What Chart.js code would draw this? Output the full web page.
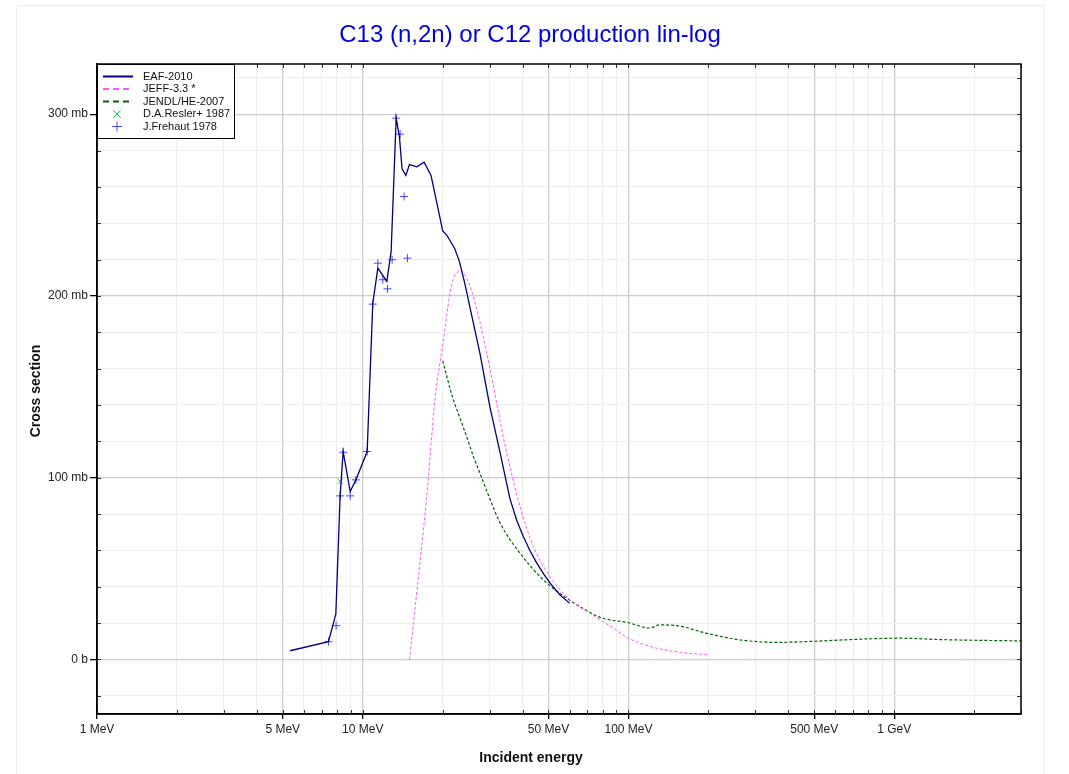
<!DOCTYPE html>
<html>
<head>
<meta charset="utf-8">
<title>C13 (n,2n) or C12 production lin-log</title>
<script src="https://cdn.jsdelivr.net/npm/chart.js@4.4.0/dist/chart.umd.min.js"></script>
<style>
  html, body { margin: 0; padding: 0; background: #fff; }
  #wrap { width: 1069px; height: 774px; }
</style>
</head>
<body>
<div id="wrap"><canvas id="xsChart" width="1069" height="774"></canvas></div>
<script>
// incident energy in MeV, cross section in mb
const eafE  = [5.33, 7.43, 7.92, 8.22, 8.44, 8.97, 9.42, 10.39, 10.91, 11.4, 12.32, 12.79, 13.36, 13.74, 14.06, 14.53, 14.99, 15.98, 17.02, 18.07, 20.0, 20.7, 21.3, 22.2, 23.1, 24.2, 25.3, 27.6, 30.1, 32.9, 35.8, 38.0, 40.2, 42.6, 45.2, 48.0, 50.7, 55.3, 60];
const eafXS = [4.8, 9.8, 24.9, 90, 114.4, 92.4, 98.8, 114.4, 196, 215.3, 208, 224.4, 297.8, 287.7, 270, 266.3, 272.3, 271, 273.6, 266.3, 235.8, 233.5, 230.5, 226, 219, 207, 194, 168.5, 139, 113.5, 88.5, 76.5, 67.6, 59.8, 53, 47, 42, 35.5, 31];

const jeffE  = [15, 16, 17.4, 18.7, 20.1, 21.3, 21.9, 22.3, 23.3, 24.6, 26.5, 29.3, 32.9, 34.3, 39.1, 43.9, 50.7, 60.3, 71.7, 87.7, 100, 127.6, 156, 200];
const jeffXS = [0, 38, 89, 143, 175, 201.5, 208.9, 211.6, 214, 209.8, 196, 168.5, 131, 118, 84.1, 62.1, 45.6, 32.7, 25.4, 17.2, 11.7, 6.2, 4, 2.5];

const jendlE  = [20, 21.7, 23.6, 24.6, 26.1, 27.6, 29.7, 32.9, 39.1, 47.8, 58.6, 65.7, 78.1, 100, 120.5, 131, 152, 197, 262, 361, 496, 787, 1050, 1528, 3000];
const jendlXS = [164.3, 145, 130, 122.6, 111.6, 102.5, 90.5, 75, 58.4, 43.8, 33.7, 29.1, 23.2, 20.2, 17.3, 19, 18.6, 14.4, 10.8, 9.4, 10, 11.3, 11.7, 10.9, 10.2];

const reslerE  = [8.22];
const reslerXS = [98];

const frehautE  = [7.43, 7.94, 8.22, 8.44, 8.97, 9.42, 10.39, 10.91, 11.4, 11.9, 12.39, 12.9, 13.36, 13.83, 14.31, 14.73];
const frehautXS = [9.8, 18.6, 90, 114, 90, 98.8, 114.4, 195.5, 218, 208.9, 203.9, 219.9, 297.8, 289, 254.7, 220.8];

const xTicks = [1, 2, 3, 4, 5, 6, 7, 8, 9, 10, 20, 30, 40, 50, 60, 70, 80, 90, 100, 200, 300, 400, 500, 600, 700, 800, 900, 1000, 2000, 3000];
const xLabels = { 1: '1 MeV', 5: '5 MeV', 10: '10 MeV', 50: '50 MeV', 100: '100 MeV', 500: '500 MeV', 1000: '1 GeV' };
const yTicks = [-20, 0, 20, 40, 60, 80, 100, 120, 140, 160, 180, 200, 220, 240, 260, 280, 300, 320];

const FONT = 'Arial, "Liberation Sans", sans-serif';

function pts(xs, ys) {
  return xs.map((x, i) => ({ x: x, y: ys[i] }));
}

function yLabel(v) {
  if (v === 0) return '0 b';
  if (v % 100 === 0) return v + ' mb';
  return '';
}

const decor = {
  id: 'decor',
  beforeDraw(chart) {
    const ctx = chart.ctx;
    ctx.save();
    ctx.fillStyle = '#fff';
    ctx.fillRect(0, 0, chart.width, chart.height);
    ctx.strokeStyle = '#eeeeee';
    ctx.lineWidth = 1;
    ctx.strokeRect(16.5, 5.5, 1028, 800);
    ctx.restore();
  },
  afterDraw(chart) {
    const ctx = chart.ctx;
    const a = chart.chartArea;
    const xs = chart.scales.x, ys = chart.scales.y;
    ctx.save();

    // inner ticks
    ctx.strokeStyle = '#333';
    ctx.lineWidth = 1;
    ctx.beginPath();
    xTicks.forEach(v => {
      const px = Math.round(xs.getPixelForValue(v)) + 0.5;
      ctx.moveTo(px, a.bottom); ctx.lineTo(px, a.bottom - 4);
      ctx.moveTo(px, a.top); ctx.lineTo(px, a.top + 4);
    });
    yTicks.forEach(v => {
      const py = Math.round(ys.getPixelForValue(v)) + 0.5;
      ctx.moveTo(a.left, py); ctx.lineTo(a.left + 4, py);
      ctx.moveTo(a.right, py); ctx.lineTo(a.right - 4, py);
    });
    ctx.stroke();

    // frame
    ctx.strokeStyle = '#000';
    ctx.lineWidth = 1.5;
    ctx.strokeRect(a.left, a.top, a.right - a.left, a.bottom - a.top);

    // legend box
    const lx = a.left, ly = a.top, lw = 137, lh = 74;
    ctx.fillStyle = '#fff';
    ctx.fillRect(lx, ly, lw, lh);
    ctx.lineWidth = 1;
    ctx.strokeStyle = '#000';
    ctx.strokeRect(lx + 0.5, ly + 0.5, lw, lh);
    ctx.font = '11px ' + FONT;
    ctx.textBaseline = 'middle';
    ctx.textAlign = 'left';
    chart.data.datasets.forEach((ds, i) => {
      const y = ly + 12.5 + i * 12.5;
      ctx.save();
      if (ds.showLine === false) {
        ctx.strokeStyle = ds.borderColor;
        ctx.lineWidth = 1;
        const r = 5;
        ctx.beginPath();
        if (ds.pointStyle === 'cross') {
          ctx.moveTo(lx + 20 - r, y); ctx.lineTo(lx + 20 + r, y);
          ctx.moveTo(lx + 20, y - r); ctx.lineTo(lx + 20, y + r);
        } else {
          const d = r * 0.75;
          ctx.moveTo(lx + 20 - d, y - d); ctx.lineTo(lx + 20 + d, y + d);
          ctx.moveTo(lx + 20 - d, y + d); ctx.lineTo(lx + 20 + d, y - d);
        }
        ctx.stroke();
      } else {
        ctx.strokeStyle = ds.borderColor;
        ctx.lineWidth = 2;
        ctx.setLineDash(ds.borderDash && ds.borderDash.length ? [6, 4] : []);
        ctx.beginPath();
        ctx.moveTo(lx + 6, y); ctx.lineTo(lx + 36, y);
        ctx.stroke();
      }
      ctx.restore();
      ctx.fillStyle = '#111';
      ctx.fillText(ds.label, lx + 46, y);
    });

    // titles
    ctx.fillStyle = '#0000dd';
    ctx.font = '24px ' + FONT;
    ctx.textAlign = 'center';
    ctx.textBaseline = 'middle';
    ctx.fillText('C13 (n,2n) or C12 production lin-log', 530, 35);

    ctx.fillStyle = '#111';
    ctx.font = 'bold 14px ' + FONT;
    ctx.fillText('Incident energy', 531, 758);
    ctx.translate(36, (a.top + a.bottom) / 2 + 2);
    ctx.rotate(-Math.PI / 2);
    ctx.fillText('Cross section', 0, 0);
    ctx.restore();
  }
};

new Chart(document.getElementById('xsChart').getContext('2d'), {
  type: 'line',
  data: {
    datasets: [
      {
        label: 'EAF-2010',
        data: pts(eafE, eafXS),
        borderColor: '#000080',
        borderWidth: 1.3,
        pointRadius: 0,
        tension: 0
      },
      {
        label: 'JEFF-3.3 *',
        data: pts(jeffE, jeffXS),
        borderColor: '#ff55ff',
        borderWidth: 1,
        borderDash: [3, 2],
        pointRadius: 0,
        cubicInterpolationMode: 'monotone'
      },
      {
        label: 'JENDL/HE-2007',
        data: pts(jendlE, jendlXS),
        borderColor: '#006400',
        borderWidth: 1.2,
        borderDash: [3, 2],
        pointRadius: 0,
        cubicInterpolationMode: 'monotone'
      },
      {
        label: 'D.A.Resler+ 1987',
        data: pts(reslerE, reslerXS),
        showLine: false,
        borderColor: '#22cc66',
        backgroundColor: '#22cc66',
        pointStyle: 'crossRot',
        pointRadius: 4,
        pointBorderWidth: 1
      },
      {
        label: 'J.Frehaut 1978',
        data: pts(frehautE, frehautXS),
        showLine: false,
        borderColor: '#4444ff',
        backgroundColor: '#4444ff',
        pointStyle: 'cross',
        pointRadius: 4,
        pointBorderWidth: 1
      }
    ]
  },
  options: {
    responsive: false,
    animation: false,
    layout: { padding: { top: 64, right: 48, left: 0, bottom: 0 } },
    plugins: {
      legend: { display: false },
      title: { display: false },
      tooltip: { enabled: false }
    },
    scales: {
      x: {
        type: 'logarithmic',
        min: 1,
        max: 3000,
        afterBuildTicks: s => { s.ticks = xTicks.map(v => ({ value: v })); },
        afterFit: s => { s.height = 60; },
        border: { color: '#000', width: 1.5 },
        grid: {
          color: c => (c.tick && xLabels[c.tick.value]) ? '#cccccc' : '#eeeeee',
          lineWidth: c => (c.tick && xLabels[c.tick.value]) ? 1.3 : 1,
          tickColor: c => (c.tick && xLabels[c.tick.value]) ? '#000' : 'rgba(0,0,0,0)',
          tickLength: 5
        },
        ticks: {
          autoSkip: false,
          maxRotation: 0,
          padding: 3,
          color: '#222',
          font: { family: FONT, size: 12 },
          callback: v => xLabels[v] || ''
        }
      },
      y: {
        type: 'linear',
        min: -30,
        max: 327.6,
        afterBuildTicks: s => { s.ticks = yTicks.map(v => ({ value: v })); },
        afterFit: s => { s.width = 97; },
        border: { color: '#000', width: 1.5 },
        grid: {
          color: c => (c.tick && c.tick.value % 100 === 0) ? '#cccccc' : '#eeeeee',
          lineWidth: c => (c.tick && c.tick.value % 100 === 0) ? 1.3 : 1,
          tickColor: c => (c.tick && c.tick.value % 100 === 0) ? '#000' : 'rgba(0,0,0,0)',
          tickLength: 7
        },
        ticks: {
          autoSkip: false,
          padding: 2,
          color: '#222',
          font: { family: FONT, size: 12 },
          callback: v => yLabel(v)
        }
      }
    }
  },
  plugins: [decor]
});
</script>
</body>
</html>
